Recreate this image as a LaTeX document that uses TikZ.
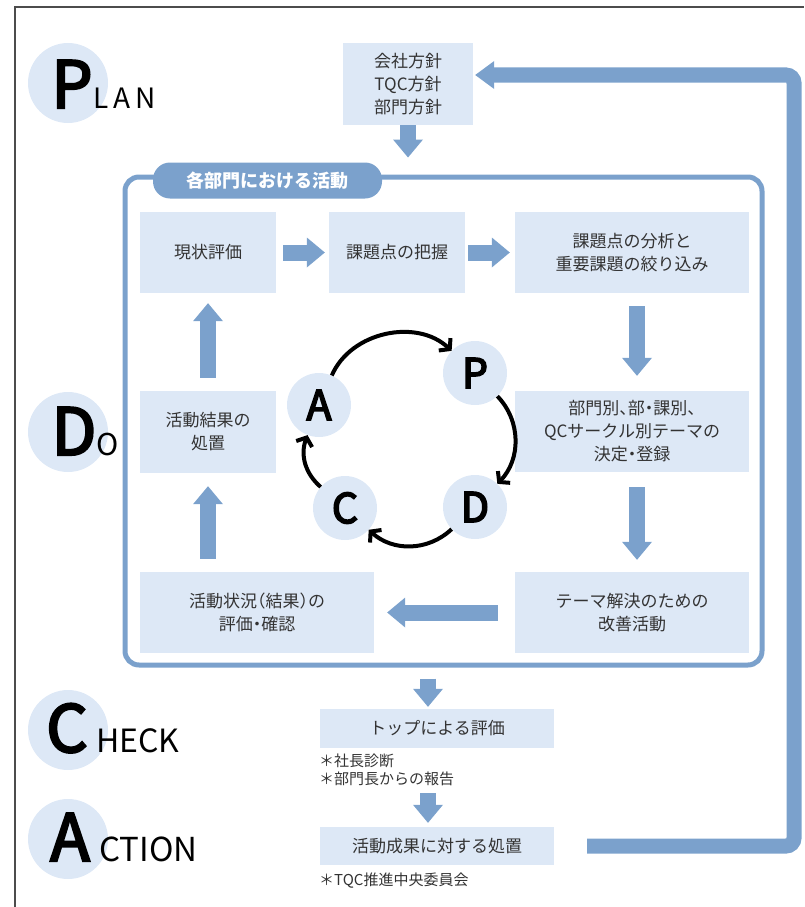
\documentclass[tikz,border=0pt]{standalone}
\usepackage{fontspec}
\setmainfont{Noto Sans CJK JP}
\usetikzlibrary{arrows.meta}
\definecolor{boxfill}{HTML}{DDE8F6}
\definecolor{flowblue}{HTML}{7BA1CC}
\definecolor{txtgray}{HTML}{333333}
\tikzset{
	stage/.style={fill=boxfill, text=txtgray, align=center, inner sep=0pt, font=\fontsize{17}{23}\selectfont\addfontfeature{RawFeature=+halt}},
	note/.style={text=txtgray, align=left, inner sep=0pt, font=\fontsize{15}{18}\selectfont},
	blk/.style={draw=flowblue, line width=16pt, -{Triangle[length=18pt,width=30pt,line width=0pt]}},
	phase/.style={circle, fill=boxfill, minimum size=80pt, inner sep=0pt},
	bigletter/.style={anchor=base, inner sep=0pt, font=\fontsize{65}{65}\selectfont\addfontfeature{FakeBold=3.5}},
	restword/.style={anchor=base west, inner sep=0pt, font=\fontsize{30}{30}\selectfont\addfontfeature{LetterSpace=6}},
	pdca/.style={circle, fill=boxfill, minimum size=64pt, inner sep=0pt, font=\fontsize{41}{41}\selectfont\addfontfeature{FakeBold=4}},
	cyc/.style={line width=4pt, -{Straight Barb[length=7pt,width=17pt]}}
}
\begin{document}
\begin{tikzpicture}[x=1pt,y=-1pt]
	\useasboundingbox (0,0) rectangle (804,907);
	\draw[black!70, line width=1.5pt] (15,907) -- (15,7) -- (804,7);
	% PLAN / DO / CHECK / ACTION
	\node[phase] (plan) at (68,83) {};
	\node[phase] (do) at (68,432) {};
	\node[phase] (check) at (68,730) {};
	\node[phase] (action) at (68,839) {};
	\node[bigletter] (planP) at (72,108) {P};
	\node[restword, font=\fontsize{28}{28}\selectfont\addfontfeature{LetterSpace=18}] (planR) at (93,108) {LAN};
	\node[bigletter] (doD) at (74,455) {D};
	\node[restword] (doR) at (96,455) {O};
	\node[bigletter] (checkC) at (67,752) {C};
	\node[restword, font=\fontsize{32}{32}\selectfont] (checkR) at (96,752) {HECK};
	\node[bigletter] (actionA) at (70,861) {A};
	\node[restword, font=\fontsize{33}{33}\selectfont] (actionR) at (99,861) {CTION};
	% policies
	\node[stage, minimum width=130pt, minimum height=82pt] (pol) at (408,84) {会社方針\\TQC方針\\部門方針};
	% activities of each department
	\node[draw=flowblue, line width=5pt, rounded corners=14pt, minimum width=637pt, minimum height=488pt] (act) at (443.5,421) {};
	\node[fill=flowblue, rounded corners=17pt, minimum width=229pt, minimum height=36pt, text=white, font=\fontsize{18}{18}\selectfont\bfseries] (tab) at (267.5,180.5) {各部門における活動};
	\node[stage, minimum width=136pt, minimum height=81pt] (s1) at (208,252.5) {現状評価};
	\node[stage, minimum width=136pt, minimum height=81pt] (s2) at (397,252.5) {課題点の把握};
	\node[stage, minimum width=234pt, minimum height=81pt] (s3) at (632,252.5) {課題点の分析と\\重要課題の絞り込み};
	\node[stage, minimum width=234pt, minimum height=81pt] (s4) at (632,431.5) {部門別、部・課別、\\QCサークル別テーマの\\決定・登録};
	\node[stage, minimum width=234pt, minimum height=81pt] (s5) at (632,612.5) {テーマ解決のための\\改善活動};
	\node[stage, minimum width=234pt, minimum height=81pt] (s6) at (257,612.5) {活動状況（結果）の\\評価・確認};
	\node[stage, minimum width=136pt, minimum height=82pt] (s7) at (208,432) {活動結果の\\処置};
	% check and action
	\node[stage, minimum width=234pt, minimum height=39pt] (top) at (437,728.5) {トップによる評価};
	\node[note, anchor=north west] (diag) at (319,754) {＊社長診断\\＊部門長からの報告};
	\node[stage, minimum width=234pt, minimum height=38pt] (res) at (437,846) {活動成果に対する処置};
	\node[note, anchor=west] (comm) at (319,881) {＊TQC推進中央委員会};
	% block arrows
	\draw[blk, shorten >=17pt] (pol.south) -- (pol.south |- act.north);
	\draw[blk, shorten <=7pt, shorten >=4pt] (s1) -- (s2);
	\draw[blk, shorten <=3pt, shorten >=5pt] (s2) -- (s3);
	\draw[blk, shorten <=13pt, shorten >=15pt] ([xshift=5pt]s3.south) -- ([xshift=5pt]s4.north);
	\draw[blk, shorten <=15pt, shorten >=12pt] ([xshift=5pt]s4.south) -- ([xshift=5pt]s5.north);
	\draw[blk, shorten <=17pt, shorten >=13pt] (s5) -- (s6);
	\draw[blk, shorten <=13pt, shorten >=13pt] (s7.south |- s6.north) -- (s7.south);
	\draw[blk, shorten <=13pt, shorten >=10pt] (s7) -- (s1);
	\draw[blk, shorten <=11pt, shorten >=2pt] ([xshift=-9pt]top.north |- act.south) -- ([xshift=-9pt]top.north);
	\draw[blk, shorten <=45pt, shorten >=4pt] ([xshift=-9pt]top.south) -- ([xshift=-9pt]res.north);
	\coordinate (turn) at (794,75);
	\draw[draw=flowblue, line width=15pt, rounded corners=8pt, shorten >=2pt, -{Triangle[length=19pt,width=28pt,line width=0pt]}]
		([xshift=33pt]res.east) -| (turn) -- (turn -| pol.east);
	% PDCA cycle
	\node[pdca] (P) at (475,373) {P};
	\node[pdca] (A) at (319,405) {A};
	\node[pdca] (C) at (345,508) {C};
	\node[pdca] (D) at (475,507) {D};
	\draw[cyc] (A) to[bend left=55] (P);
	\draw[cyc] (P) to[bend left=44] (D);
	\draw[cyc] (D) to[bend left=43] (C);
	\draw[cyc] (C) to[bend left=35] (A);
\end{tikzpicture}
\end{document}
